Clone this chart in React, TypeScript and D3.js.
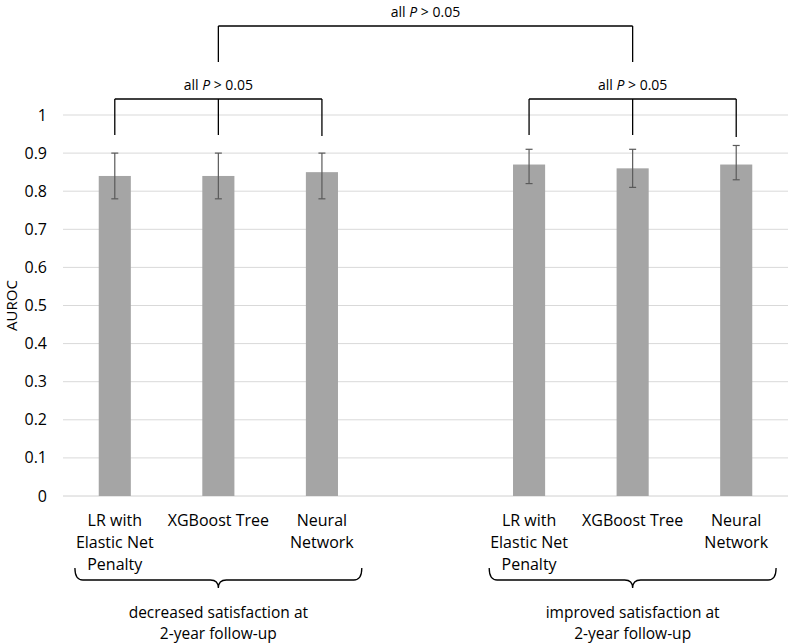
import React from "react";
import * as d3 from "d3";

const models = ["LR with Elastic Net Penalty", "XGBoost Tree", "Neural Network"];
const modelLabelLines = [["LR with", "Elastic Net", "Penalty"], ["XGBoost Tree"], ["Neural", "Network"]];
const groups = ["decreased", "improved"];
const groupLabelLines = [
  ["decreased satisfaction at", "2-year follow-up"],
  ["improved satisfaction at", "2-year follow-up"],
];
const decreasedAUROC = [0.84, 0.84, 0.85];
const decreasedLow = [0.78, 0.78, 0.78];
const decreasedHigh = [0.9, 0.9, 0.9];
const improvedAUROC = [0.87, 0.86, 0.87];
const improvedLow = [0.82, 0.81, 0.83];
const improvedHigh = [0.91, 0.91, 0.92];
const yTicks = [0, 0.1, 0.2, 0.3, 0.4, 0.5, 0.6, 0.7, 0.8, 0.9, 1];

const W = 790;
const H = 643;
const FONT = "'Open Sans', 'Liberation Sans', sans-serif";

export default function App() {
  const slots = ["d0", "d1", "d2", "gap", "i0", "i1", "i2"];
  const x = d3.scaleBand<string>().domain(slots).range([63, 788]).paddingInner(0.69).paddingOuter(0.345);
  const y = d3.scaleLinear().domain([0, 1]).range([496, 115]);
  const bw = x.bandwidth();
  const step = x.step();
  const cx = (s: string) => (x(s) as number) + bw / 2;

  const bars = [
    ...models.map((m, i) => ({ slot: "d" + i, v: decreasedAUROC[i], lo: decreasedLow[i], hi: decreasedHigh[i], lines: modelLabelLines[i] })),
    ...models.map((m, i) => ({ slot: "i" + i, v: improvedAUROC[i], lo: improvedLow[i], hi: improvedHigh[i], lines: modelLabelLines[i] })),
  ];

  const brace = (c: number, half: number) => {
    const x0 = c - half, x1 = c + half;
    const yt = 568, ym = 580, yb = 588;
    return `M${x0},${yt} Q${x0},${ym} ${x0 + 8},${ym} L${c - 8},${ym} Q${c},${ym} ${c},${yb} Q${c},${ym} ${c + 8},${ym} L${x1 - 8},${ym} Q${x1},${ym} ${x1},${yt}`;
  };

  const pText = (xc: number, yb: number) => (
    <text x={xc} y={yb} textAnchor="middle" fontSize={14} fontFamily={FONT} fill="#000">
      all <tspan fontStyle="italic">P</tspan> &gt; 0.05
    </text>
  );

  const groupBracket = (prefix: string, yLine: number, yEnd: number[]) => {
    const xs = [0, 1, 2].map((i) => cx(prefix + i));
    return (
      <g stroke="#000" strokeWidth={1.3} fill="none">
        <line x1={xs[0]} x2={xs[2]} y1={yLine} y2={yLine} />
        {xs.map((xx, i) => (
          <line key={i} x1={xx} x2={xx} y1={yLine} y2={yEnd[i]} />
        ))}
      </g>
    );
  };

  return (
    <svg width={W} height={H} style={{ position: "absolute", left: 0, top: 0, background: "#fff" }}>
      {yTicks.map((t) => (
        <line key={t} x1={63} x2={788} y1={y(t)} y2={y(t)} stroke={t === 0 ? "#d0d0d0" : "#d9d9d9"} strokeWidth={1} />
      ))}
      {yTicks.map((t) => (
        <text key={"l" + t} x={47} y={y(t) + 5.5} textAnchor="end" fontSize={16} fontFamily={FONT} fill="#000">
          {d3.format("~g")(t)}
        </text>
      ))}
      <text transform={`translate(17,${y(0.5)}) rotate(-90)`} textAnchor="middle" fontSize={15} fontFamily={FONT} fill="#000">
        AUROC
      </text>
      {bars.map((b) => (
        <rect key={b.slot} x={x(b.slot)} y={y(b.v)} width={bw} height={y(0) - y(b.v)} fill="#a5a5a5" />
      ))}
      {bars.map((b) => {
        const c = cx(b.slot);
        return (
          <g key={"e" + b.slot} stroke="#5a5a5a" strokeWidth={1.2}>
            <line x1={c} x2={c} y1={y(b.hi)} y2={y(b.lo)} />
            <line x1={c - 3.5} x2={c + 3.5} y1={y(b.hi)} y2={y(b.hi)} />
            <line x1={c - 3.5} x2={c + 3.5} y1={y(b.lo)} y2={y(b.lo)} />
          </g>
        );
      })}
      {bars.map((b) => (
        <text key={"x" + b.slot} textAnchor="middle" fontSize={16} fontFamily={FONT} fill="#000">
          {b.lines.map((ln, i) => (
            <tspan key={i} x={cx(b.slot)} y={526 + i * 22}>
              {ln}
            </tspan>
          ))}
        </text>
      ))}
      {groups.map((g, gi) => {
        const c = cx(gi === 0 ? "d1" : "i1");
        return <path key={g} d={brace(c, step * 1.385)} stroke="#000" strokeWidth={1.3} fill="none" />;
      })}
      {groupLabelLines.map((lines, gi) => {
        const c = cx(gi === 0 ? "d1" : "i1");
        return (
          <text key={"g" + gi} textAnchor="middle" fontSize={15.5} fontFamily={FONT} fill="#000">
            {lines.map((ln, i) => (
              <tspan key={i} x={c} y={618 + i * 21}>
                {ln}
              </tspan>
            ))}
          </text>
        );
      })}
      {groupBracket("d", 99, [135, 135, 136])}
      {groupBracket("i", 99, [135, 135, 137])}
      {pText(cx("d1"), 90)}
      {pText(cx("i1"), 90)}
      <g stroke="#000" strokeWidth={1.3} fill="none">
        <line x1={cx("d1")} x2={cx("i1")} y1={26} y2={26} />
        <line x1={cx("d1")} x2={cx("d1")} y1={26} y2={62} />
        <line x1={cx("i1")} x2={cx("i1")} y1={26} y2={62} />
      </g>
      {pText((cx("d1") + cx("i1")) / 2, 17)}
    </svg>
  );
}
